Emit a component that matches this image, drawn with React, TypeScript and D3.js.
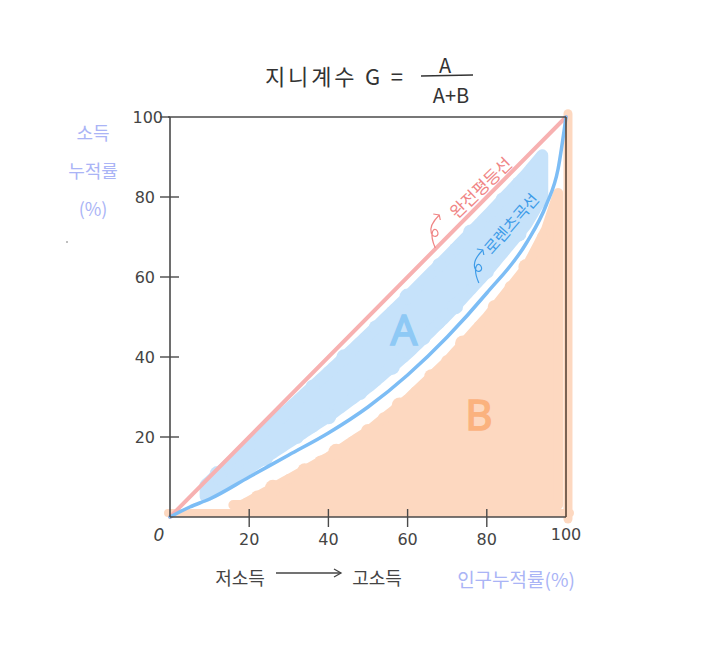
import React from 'react';
import * as d3 from 'd3';

// cumulative population share (%) and cumulative income share (%) of the Lorenz curve
const popShare = [0, 5, 10, 20, 30, 40, 50, 60, 70, 80, 90, 95, 98, 100];
const incomeShare = [0, 2.5, 4.5, 10, 15.5, 21, 27.5, 35.5, 45, 56, 68.5, 78, 87, 100];
const equality = [0, 100];
const xTicks = [20, 40, 60, 80, 100];
const yTicks = [20, 40, 60, 80, 100];
const titleText = '지니계수 G =';
const fracTop = 'A';
const fracBottom = 'A+B';
const yLabelLines = ['소득', '누적률', '(%)'];
const lowIncome = '저소득';
const highIncome = '고소득';
const xLabel = '인구누적률(%)';
const eqLabel = '완전평등선';
const lorenzLabel = '로렌츠곡선';

const W = 713;
const H = 671;
const FONT = "'Noto Sans CJK KR', 'Noto Sans', sans-serif";

export default function App() {
  const x = d3.scaleLinear().domain([0, 100]).range([170, 566]);
  const y = d3.scaleLinear().domain([0, 100]).range([517, 117]);
  const L = d3.scaleLinear().domain(popShare).range(incomeShare);

  const lorenzPath = d3
    .line<number>()
    .x((d, i) => x(popShare[i]))
    .y((d) => y(d))
    .curve(d3.curveMonotoneX)(incomeShare) as string;

  // Blob A: band between equality line and Lorenz curve
  const aPops = d3.range(9, 94.01, 1);
  const aUpper = (t: number) => L(t) + 0.8 * (t - L(t));
  const aLower = (t: number) => L(t) + 0.22 * (t - L(t));
  const blobA = d3
    .area<number>()
    .x((t) => x(t))
    .y0((t) => y(aLower(t)))
    .y1((t) => y(aUpper(t)))
    .curve(d3.curveBasis)(aPops) as string;

  // Blob B: area under the Lorenz curve
  const bPops = d3.range(16, 98.01, 1);
  const bTop = (t: number) => Math.max(L(t) - 6, 3);
  const bPoints: [number, number][] = [
    ...bPops.map((t) => [x(t), y(bTop(t))] as [number, number]),
    [x(98), y(3)],
    [x(16), y(3)],
  ];
  const blobB = d3.line().curve(d3.curveLinearClosed)(bPoints) as string;

  const scallopA = d3.range(12, 92, 4);
  const scallopB = d3.range(22, 96, 4);
  const radii = [6, 8, 5, 7];

  const blueBlob = '#c6e2fa';
  const orangeBlob = '#fdd8c0';
  const axisColor = '#4a4a4a';

  const eqMid = 79;
  const eqAngle = -44;
  const lzAngle = -49;

  const curl = 'M0,0 C-5,5 -10,12 -8,18 C-6,24 1,21 -2,16 C-5,11 -11,17 -4,33';
  const head = 'M-6,-1 L0,0 L1,5';

  return (
    <svg
      width={W}
      height={H}
      style={{ position: 'absolute', left: 0, top: 0, background: '#fff' }}
      fontFamily={FONT}
    >
      <rect width={W} height={H} fill="#fff" />

      {/* orange strips along bottom and right edge */}
      <line x1={x(-0.5)} x2={x(101)} y1={y(1)} y2={y(1)} stroke={orangeBlob} strokeWidth={8} strokeLinecap="round" />
      <line x1={x(100.5)} x2={x(100.5)} y1={y(-0.5)} y2={y(100.8)} stroke={orangeBlob} strokeWidth={9} strokeLinecap="round" />

      {/* blob B */}
      <path d={blobB} fill={orangeBlob} stroke={orangeBlob} strokeWidth={10} strokeLinejoin="round" />
      {scallopB.map((t, i) => (
        <circle key={'sb' + i} cx={x(t)} cy={y(bTop(t))} r={radii[i % 4]} fill={orangeBlob} />
      ))}

      {/* blob A */}
      <path d={blobA} fill={blueBlob} stroke={blueBlob} strokeWidth={12} strokeLinejoin="round" />
      {scallopA.map((t, i) => (
        <g key={'sa' + i}>
          <circle cx={x(t)} cy={y(aUpper(t))} r={radii[(i + 1) % 4]} fill={blueBlob} />
          <circle cx={x(t)} cy={y(aLower(t))} r={radii[(i + 2) % 4]} fill={blueBlob} />
        </g>
      ))}

      {/* equality line */}
      <line
        x1={x(equality[0])}
        y1={y(equality[0])}
        x2={x(equality[1])}
        y2={y(equality[1])}
        stroke="#f7b1b1"
        strokeWidth={4}
        strokeLinecap="round"
      />

      {/* Lorenz curve */}
      <path d={lorenzPath} fill="none" stroke="#7dbdf5" strokeWidth={3.5} strokeLinecap="round" />

      {/* frame / axes */}
      <line x1={x(0)} x2={x(0)} y1={y(100)} y2={y(0)} stroke={axisColor} strokeWidth={1.6} />
      <line x1={x(0)} x2={x(100)} y1={y(0)} y2={y(0)} stroke={axisColor} strokeWidth={1.6} />
      <line x1={x(-0.5)} x2={x(100)} y1={y(100)} y2={y(100)} stroke={axisColor} strokeWidth={1.4} />
      <line x1={x(100)} x2={x(100)} y1={y(100)} y2={y(0)} stroke="#5a4638" strokeWidth={1.6} />

      {/* y ticks */}
      {yTicks.map((v) => (
        <g key={'yt' + v}>
          <line
            x1={x(0) - 10}
            x2={v === 100 ? x(0) : x(0) + 9}
            y1={y(v)}
            y2={y(v)}
            stroke={axisColor}
            strokeWidth={1.4}
          />
          <text
            x={v === 100 ? x(0) - 7 : x(0) - 15}
            y={y(v)}
            textAnchor="end"
            dominantBaseline="central"
            fontSize={16}
            fill="#444"
            fontFamily="'DejaVu Sans', sans-serif"
          >
            {v}
          </text>
        </g>
      ))}

      {/* x ticks */}
      {xTicks.map((v) => (
        <g key={'xt' + v}>
          {v !== 100 && (
            <line x1={x(v)} x2={x(v)} y1={y(0) - 8} y2={y(0) + 10} stroke={axisColor} strokeWidth={1.4} />
          )}
          <text
            x={x(v)}
            y={v === 100 ? 534 : 539}
            textAnchor="middle"
            dominantBaseline="central"
            fontSize={16}
            fill="#444"
            fontFamily="'DejaVu Sans', sans-serif"
          >
            {v}
          </text>
        </g>
      ))}
      <text
        x={x(0) - 11}
        y={535}
        textAnchor="middle"
        dominantBaseline="central"
        fontSize={17}
        fill="#444"
        fontStyle="italic"
        fontFamily="'DejaVu Sans', sans-serif"
      >
        0
      </text>

      {/* title */}
      <text x={265} y={75} dominantBaseline="central" fontSize={22} fill="#333" textLength={138}>
        {titleText}
      </text>
      <text x={445} y={64} textAnchor="middle" dominantBaseline="central" fontSize={20} fill="#333">
        {fracTop}
      </text>
      <line x1={421} x2={473} y1={76} y2={75} stroke="#333" strokeWidth={1.5} />
      <text x={451} y={94} textAnchor="middle" dominantBaseline="central" fontSize={20} fill="#333">
        {fracBottom}
      </text>

      {/* y axis label */}
      {yLabelLines.map((s, i) => (
        <text
          key={'yl' + i}
          x={93}
          y={132 + i * 38}
          textAnchor="middle"
          dominantBaseline="central"
          fontSize={18}
          fill="#aab4f6"
        >
          {s}
        </text>
      ))}
      <circle cx={67} cy={242} r={1} fill="#aaa" />

      {/* x axis labels */}
      <text x={240} y={577} textAnchor="middle" dominantBaseline="central" fontSize={18} fill="#444">
        {lowIncome}
      </text>
      <line x1={276} x2={341} y1={573} y2={573} stroke="#444" strokeWidth={1.3} />
      <path d="M334,569 L341,573 L334,577" fill="none" stroke="#444" strokeWidth={1.3} />
      <text x={377} y={577} textAnchor="middle" dominantBaseline="central" fontSize={18} fill="#444">
        {highIncome}
      </text>
      <text x={516} y={578} textAnchor="middle" dominantBaseline="central" fontSize={19} fill="#aab4f6">
        {xLabel}
      </text>

      {/* region letters */}
      <text
        x={404}
        y={328}
        textAnchor="middle"
        dominantBaseline="central"
        fontSize={42}
        fill="#8ec9f5"
        stroke="#8ec9f5"
        strokeWidth={1.5}
        fontFamily="'Noto Sans', sans-serif"
      >
        A
      </text>
      <text
        x={479}
        y={413}
        textAnchor="middle"
        dominantBaseline="central"
        fontSize={42}
        fill="#fbb27e"
        stroke="#fbb27e"
        strokeWidth={1.5}
        fontFamily="'Noto Sans', sans-serif"
      >
        B
      </text>

      {/* curve annotations */}
      <g transform={`translate(${x(eqMid) - 3},${y(eqMid) - 14}) rotate(${eqAngle})`}>
        <text textAnchor="middle" dominantBaseline="central" fontSize={17} fill="#f08585">
          {eqLabel}
        </text>
      </g>
      <g transform={`translate(${x(68)},${y(75.5)})`}>
        <path d={curl} fill="none" stroke="#f08585" strokeWidth={1.2} />
        <path d={head} fill="none" stroke="#f08585" strokeWidth={1.2} />
      </g>

      <g transform={`translate(${x(86)},${y(L(86)) - 40}) rotate(${lzAngle})`}>
        <text textAnchor="middle" dominantBaseline="central" fontSize={16} fill="#3d9be8">
          {lorenzLabel}
        </text>
      </g>
      <g transform={`translate(${x(79)},${y(66.75)})`}>
        <path d={curl} fill="none" stroke="#3d9be8" strokeWidth={1.2} />
        <path d={head} fill="none" stroke="#3d9be8" strokeWidth={1.2} />
      </g>
    </svg>
  );
}
